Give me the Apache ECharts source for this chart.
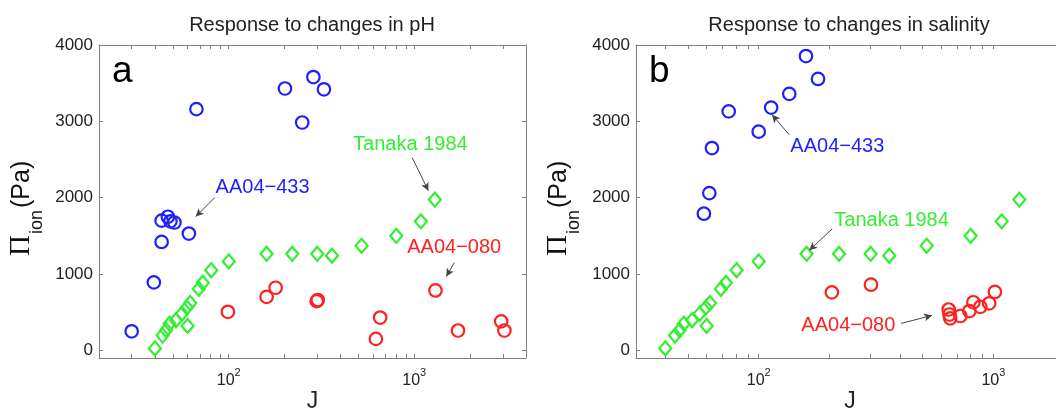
<!DOCTYPE html>
<html><head><meta charset="utf-8">
<script src="https://cdn.jsdelivr.net/npm/echarts@6/dist/echarts.min.js"></script>
<style>html,body{margin:0;padding:0;background:#fff}#c{width:1056px;height:408px}</style>
</head><body><div id="c"></div>
<script>
// ---- data (J, Pi_ion in Pa) ----
const tanaka = [[40,25],[44,195],[46,265],[48,350],[52,395],[56,480],[59.5,560],[62,620],[60,320],[69,805],[72.5,885],[80.5,1050],[100,1165],[160,1265],[220,1265],[300,1265],[360,1240],[520,1370],[800,1500],[1085,1690],[1290,1975]];
const blueA = [[30,250],[39.5,890],[43.5,1420],[43.5,1700],[47,1750],[48.5,1690],[51,1675],[61,1530],[67,3160],[201,3430],[249,2985],[286,3580],[326,3420]];
const redA = [[99,505],[160,700],[179,820],[298,645],[302,660],[621,150],[655,430],[1300,785],[1720,260],[2940,380],[3060,260]];
const blueB = [[58.4,1790],[61.6,2060],[63.2,2650],[74.5,3130],[100,2865],[113,3180],[135,3360],[159,3855],[179,3555]];
const redB = [[205,760],[301,860],[645,535],[650,470],[655,420],[723,450],[790,515],[822,630],[880,570],[960,615],[1015,765]];
const yTicks = [0,1000,2000,3000,4000];
const xMajor = [100,1000];
const xTicksA = [20,30,40,50,60,70,80,90,100,200,300,400,500,600,700,800,900,1000,2000,3000,4000];
const xTicksB = [30,40,50,60,70,80,90,100,200,300,400,500,600,700,800,900,1000,2000];
const titles = ['Response to changes in pH','Response to changes in salinity'];
const panelLetters = ['a','b'];
// annotations: [text, textAnchor(left,middle), arrowStart, arrowEnd]
const annA = {
  blue: ['AA04\u2212433',[85,2140],[84,2000],[66.4,1752]],
  green:['Tanaka 1984',[468,2693],[975,2523],[1191,2092]],
  red:  ['AA04\u2212080',[916,1346],[1644,1150],[1489,967]]
};
const annB = {
  blue: ['AA04\u2212433',[136.4,2667],[135,2824],[114,3085]],
  green:['Tanaka 1984',[210,1703],[205.6,1591],[164.4,1311]],
  red:  ['AA04\u2212080',[152,327],[404.6,353],[548,458]]
};

const C = {blue:'#1f1fff', red:'#ff2020', green:'#33ee33'};
const AX = '#808080';
const grids = [
  {left:99, top:45, width:427, height:313, outerBoundsMode:'none', containLabel:false},
  {left:636, top:45, width:428, height:313, outerBoundsMode:'none', containLabel:false}
];
function xAx(gi, pos, min, max, ticks, labels){
  return {type:'log', logBase:10, gridIndex:gi, position:pos, min:min, max:max,
    name: labels ? 'J' : '', nameLocation:'middle', nameGap:32, nameMoveOverlap:false,
    nameTextStyle:{fontSize:23, color:'#222', fontFamily:'Liberation Sans, Arial', verticalAlign:'top'},
    axisLine:{show:true, onZero:false, lineStyle:{color:AX, width:1}},
    axisTick:{show:true, inside:true, length:4, customValues:ticks, lineStyle:{color:AX}},
    minorTick:{show:false}, splitLine:{show:false},
    axisLabel:{show:labels, customValues:xMajor, margin:9, color:'#222',
      formatter:v=>'{b|10}{s|'+Math.round(Math.log10(v))+'}',
      rich:{b:{fontSize:16, fontFamily:'Liberation Sans, Arial', color:'#222', lineHeight:22, verticalAlign:'bottom'},
            s:{fontSize:11, fontFamily:'Liberation Sans, Arial', color:'#222', lineHeight:22, verticalAlign:'top'}}}
  };
}
function yAx(gi, pos, labels){
  return {type:'value', gridIndex:gi, position:pos, min:-100, max:4000,
    axisLine:{show:true, onZero:false, lineStyle:{color:AX, width:1}},
    axisTick:{show:true, inside:true, length:4, customValues:yTicks, lineStyle:{color:AX}},
    splitLine:{show:false},
    axisLabel:{show:labels, customValues:yTicks, margin:6, fontSize:17, color:'#222', fontFamily:'Liberation Sans, Arial',
      formatter:v=>String(v)}
  };
}
function ann(a, color){
  return {
    markPoint:{silent:true, symbol:'circle', symbolSize:0,
      label:{show:true, position:'right', distance:0, formatter:a[0], fontSize:20, color:color, fontFamily:'Liberation Sans, Arial'},
      data:[{coord:a[1], value:a[0]}]},
    markLine:{silent:true, symbol:['none','arrow'], symbolSize:[6,8], animation:false,
      lineStyle:{color:'#444', width:1, type:'solid'}, label:{show:false},
      data:[[{coord:a[2]},{coord:a[3]}]]}
  };
}
function sc(data, xi, yi, color, shape, a){
  const s = {type:'scatter', data:data, xAxisIndex:xi, yAxisIndex:yi,
    symbol:shape, symbolSize: shape==='diamond'?[12,14]:12.5, animation:false,
    itemStyle:{color:'rgba(0,0,0,0)', borderColor:color, borderWidth:2.2, opacity:1}};
  return Object.assign(s, ann(a, color));
}
const option = {
  animation:false,
  grid: grids,
  xAxis:[xAx(0,'bottom',20,4000,xTicksA,true), xAx(0,'top',20,4000,xTicksA,false),
         xAx(1,'bottom',30,2000,xTicksB,true), xAx(1,'top',30,2000,xTicksB,false)],
  yAxis:[yAx(0,'left',true), yAx(0,'right',false), yAx(1,'left',true), yAx(1,'right',false)],
  series:[
    sc(tanaka,0,0,C.green,'diamond',annA.green),
    sc(blueA,0,0,C.blue,'circle',annA.blue),
    sc(redA,0,0,C.red,'circle',annA.red),
    sc(tanaka,2,2,C.green,'diamond',annB.green),
    sc(blueB,2,2,C.blue,'circle',annB.blue),
    sc(redB,2,2,C.red,'circle',annB.red)
  ],
  graphic:[]
};
const g = [];
[[312,titles[0]],[849,titles[1]]].forEach(t=>g.push({type:'text', x:t[0], y:15,
  style:{text:t[1], fill:'#222', font:'20px "Liberation Sans", Arial', textAlign:'center', textVerticalAlign:'top'}}));
[[112,panelLetters[0]],[649,panelLetters[1]]].forEach(t=>g.push({type:'text', x:t[0], y:90,
  style:{text:t[1], fill:'#000', font:'37px "Liberation Sans", Arial', textAlign:'left', textVerticalAlign:'bottom'}}));
[[36,256],[573,256]].forEach(p=>g.push({type:'group', x:p[0], y:p[1], rotation:Math.PI/2, children:[
  {type:'text', x:0, y:0, style:{text:'\u03A0', fill:'#111', font:'29px "Liberation Serif", serif', textAlign:'left', textVerticalAlign:'bottom'}},
  {type:'text', x:22, y:10, style:{text:'ion', fill:'#111', font:'18px "Liberation Sans", Arial', textAlign:'left', textVerticalAlign:'bottom'}},
  {type:'text', x:48, y:-1, style:{text:'(Pa)', fill:'#111', font:'25px "Liberation Sans", Arial', textAlign:'left', textVerticalAlign:'bottom'}}
]}));
option.graphic = g;
const chart = echarts.init(document.getElementById('c'), null, {renderer:'canvas'});
chart.setOption(option);
</script></body></html>
